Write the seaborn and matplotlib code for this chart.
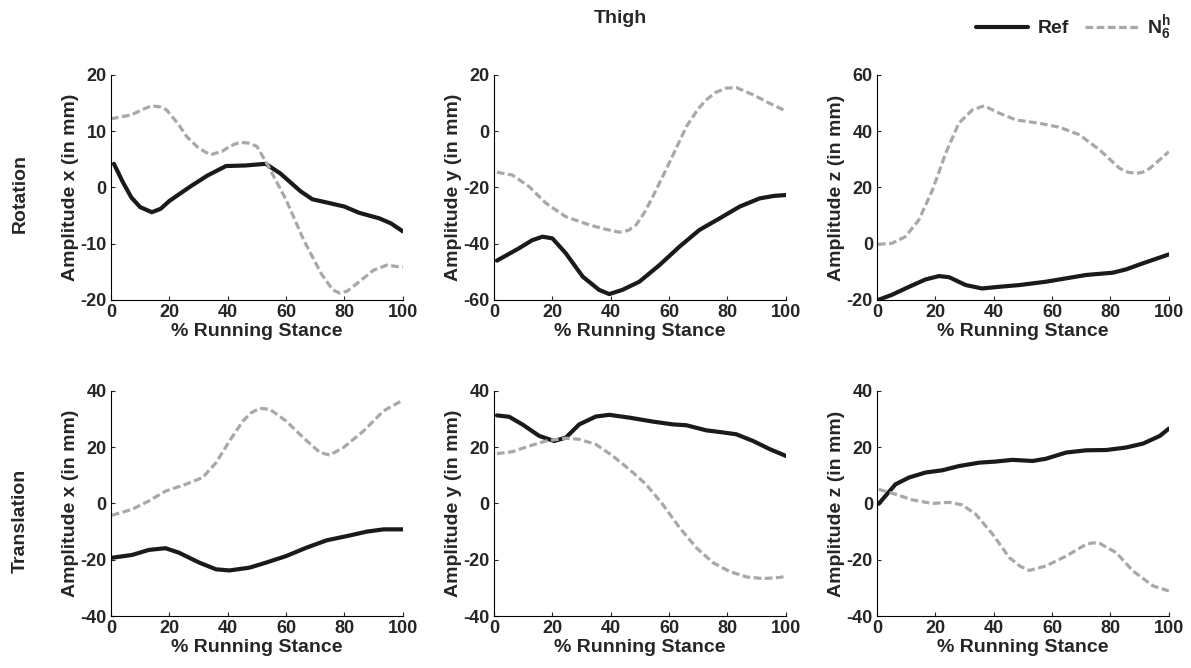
import numpy as np
import matplotlib
matplotlib.use("Agg")
import matplotlib.pyplot as plt
import seaborn as sns

sns.set_style("ticks")
plt.rcParams["font.family"] = ["Liberation Sans", "DejaVu Sans"]
plt.rcParams["font.weight"] = "bold"
plt.rcParams["axes.unicode_minus"] = False
plt.rcParams["mathtext.fontset"] = "custom"
plt.rcParams["mathtext.rm"] = "Liberation Sans"
plt.rcParams["mathtext.bf"] = "Liberation Sans:bold"

# ---- data (x = % running stance) ----
rot_x_ref_pct = [1, 4, 7, 10, 14, 17, 20, 27, 33, 39.4, 46, 53, 58, 65, 69, 75, 80, 85, 92, 96, 100]
rot_x_ref = [4.2, 1.0, -1.8, -3.5, -4.4, -3.8, -2.4, 0.1, 2.1, 3.8, 3.9, 4.2, 2.5, -0.7, -2.1, -2.8, -3.4, -4.5, -5.5, -6.4, -7.8]
rot_x_n6_pct = [0, 7, 11, 14, 17, 19, 23, 26, 30, 34, 38, 41, 44, 47, 50, 54, 60, 66, 72, 76, 78.5, 81, 83, 90, 94.6, 100]
rot_x_n6 = [12.2, 12.9, 13.9, 14.5, 14.3, 13.8, 11.3, 9.0, 7.0, 5.8, 6.4, 7.4, 8.0, 7.9, 7.3, 3.7, -2.2, -9.3, -15.3, -18.2, -18.8, -18.4, -17.6, -14.7, -13.8, -14.2]

rot_y_ref_pct = [1, 8.6, 13, 16.6, 20, 24.6, 30.4, 36, 39.5, 44, 49.8, 56.7, 63.6, 70.4, 77.3, 84.2, 91, 96, 100]
rot_y_ref = [-46.0, -41.6, -38.8, -37.5, -38.1, -43.4, -51.7, -56.4, -57.9, -56.4, -53.5, -47.6, -41.0, -35.1, -31.0, -26.8, -23.9, -23.0, -22.7]
rot_y_n6_pct = [1, 6.3, 12, 17.8, 24.6, 32.6, 38.4, 43, 46, 48.7, 51.5, 54.4, 60, 65.9, 70, 72.7, 76, 79.6, 83, 88.8, 95.6, 100]
rot_y_n6 = [-14.6, -15.6, -19.7, -25.6, -30.4, -33.3, -34.9, -35.9, -35.3, -33.3, -29.0, -23.3, -11.4, 1.6, 8.0, 11.1, 13.8, 15.3, 15.5, 12.9, 9.3, 7.2]

rot_z_ref_pct = [0.3, 5, 11, 16.6, 21.2, 24.7, 30.4, 36, 41.9, 48.7, 57.9, 64.8, 71.7, 80.8, 85.4, 91, 100]
rot_z_ref = [-20.0, -18.2, -15.3, -12.7, -11.5, -11.9, -14.7, -15.9, -15.3, -14.7, -13.5, -12.3, -11.1, -10.3, -9.1, -7.0, -3.8]
rot_z_n6_pct = [0.3, 5, 9.7, 14.3, 19, 23.5, 28, 32.7, 36.7, 41.9, 47.6, 55.6, 62.5, 69.4, 76.3, 83.1, 86, 88.9, 91, 93.5, 100]
rot_z_n6 = [-0.2, 0.1, 2.5, 8.4, 19.1, 32.1, 42.8, 47.6, 49.0, 46.4, 44.0, 42.8, 41.4, 38.7, 33.3, 26.8, 25.4, 25.0, 25.4, 26.8, 32.7]

tra_x_ref_pct = [0.3, 7.2, 13, 18.7, 23.3, 30.2, 36, 40.6, 47.5, 53.2, 60, 67, 73.9, 80.8, 87.7, 93.4, 100]
tra_x_ref = [-19.3, -18.3, -16.5, -15.9, -17.5, -21.0, -23.4, -23.8, -22.8, -21.0, -18.7, -15.7, -13.1, -11.6, -10.0, -9.2, -9.2]
tra_x_n6_pct = [0.3, 7.2, 13, 18.7, 25.6, 31.4, 36, 40.6, 45.2, 48, 50.9, 54.4, 60, 65.9, 71.6, 75, 79.7, 86.6, 93.4, 100]
tra_x_n6 = [-4.2, -2.1, 0.9, 4.4, 6.8, 9.2, 14.5, 22.2, 29.3, 32.2, 33.8, 33.5, 29.3, 23.4, 18.1, 17.2, 19.9, 25.8, 32.9, 36.7]

tra_y_ref_pct = [1, 5.2, 9.7, 15.5, 20.6, 24.6, 29.2, 34.9, 39.5, 46.4, 54.4, 61.3, 65.9, 72.7, 77.3, 83, 88.8, 94.5, 100]
tra_y_ref = [31.3, 30.8, 28.1, 24.0, 22.2, 23.4, 28.1, 30.9, 31.5, 30.5, 29.1, 28.1, 27.8, 26.0, 25.4, 24.6, 22.2, 19.3, 16.9]
tra_y_n6_pct = [1, 6.3, 12, 17.8, 24.6, 29.2, 34.9, 40.7, 46.4, 52.1, 57.8, 63.6, 69.3, 75, 80.8, 86.5, 92.2, 97.9, 100]
tra_y_n6 = [17.7, 18.4, 20.4, 22.2, 23.2, 22.8, 21.0, 16.9, 12.1, 6.8, -0.3, -8.6, -15.7, -21.0, -24.2, -26.1, -26.7, -26.3, -25.8]

tra_z_ref_pct = [0.6, 2.9, 6.3, 10.9, 16.6, 22.4, 28.1, 35, 40.7, 46.4, 53.3, 57.9, 64.8, 71.7, 78.6, 85.4, 91.2, 96.9, 100]
tra_z_ref = [-0.1, 2.7, 6.8, 9.2, 11.0, 11.8, 13.3, 14.5, 14.9, 15.5, 15.1, 15.9, 18.1, 18.9, 19.0, 19.9, 21.3, 24.0, 26.6]
tra_z_n6_pct = [0.6, 6.3, 12, 18.9, 24.7, 29.2, 33.8, 39.6, 45.3, 49, 52.2, 57.9, 64.8, 71.7, 74, 76.3, 82, 87.7, 94.6, 100]
tra_z_n6 = [5.0, 3.3, 1.3, 0.0, 0.4, -0.5, -3.8, -10.9, -19.2, -22.3, -23.8, -22.2, -18.7, -14.5, -14.0, -14.2, -17.5, -24.0, -29.3, -31.1]

panels = [
    (rot_x_ref_pct, rot_x_ref, rot_x_n6_pct, rot_x_n6, "x", (-20, 20), [-20, -10, 0, 10, 20]),
    (rot_y_ref_pct, rot_y_ref, rot_y_n6_pct, rot_y_n6, "y", (-60, 20), [-60, -40, -20, 0, 20]),
    (rot_z_ref_pct, rot_z_ref, rot_z_n6_pct, rot_z_n6, "z", (-20, 60), [-20, 0, 20, 40, 60]),
    (tra_x_ref_pct, tra_x_ref, tra_x_n6_pct, tra_x_n6, "x", (-40, 40), [-40, -20, 0, 20, 40]),
    (tra_y_ref_pct, tra_y_ref, tra_y_n6_pct, tra_y_n6, "y", (-40, 40), [-40, -20, 0, 20, 40]),
    (tra_z_ref_pct, tra_z_ref, tra_z_n6_pct, tra_z_n6, "z", (-40, 40), [-40, -20, 0, 20, 40]),
]

fig = plt.figure(figsize=(11.91, 6.68), dpi=100)

lefts = [0.0932, 0.4148, 0.7364]
bottoms = [0.5509, 0.0778]
w, h = 0.245, 0.337

for i, (rx, ry, nx, ny, comp, ylim, yticks) in enumerate(panels):
    row, col = divmod(i, 3)
    ax = fig.add_axes([lefts[col], bottoms[row], w, h])
    sns.lineplot(x=rx, y=ry, color="#1a1a1a", lw=3.0, ax=ax, label="Ref", legend=False)
    sns.lineplot(x=nx, y=ny, color="#a8a8a8", lw=2.3, ax=ax,
                 label=r"$\mathbf{N_6^h}$", legend=False)
    ax.lines[-1].set_dashes([2.4, 1.1])
    ax.set_xlim(0, 100)
    ax.set_ylim(*ylim)
    ax.set_xticks([0, 20, 40, 60, 80, 100])
    ax.set_yticks(yticks)
    ax.set_xlabel("% Running Stance", fontsize=14, fontweight="bold", labelpad=1)
    ax.set_ylabel(f"Amplitude {comp} (in mm)", fontsize=14, fontweight="bold", labelpad=1)
    ax.tick_params(direction="in", length=3, width=0.8, labelsize=13, pad=3)
    for lab in ax.get_xticklabels() + ax.get_yticklabels():
        lab.set_fontweight("bold")
    sns.despine(ax=ax)
    for s in ["left", "bottom"]:
        ax.spines[s].set_linewidth(0.8)
        ax.spines[s].set_color("black")

handles, labels = fig.axes[0].get_legend_handles_labels()
fig.legend(handles, labels, loc="upper right", bbox_to_anchor=(0.998, 1.006), ncol=2,
           frameon=False, fontsize=14, handlelength=2.7, columnspacing=0.8,
           handletextpad=0.5)

fig.text(0.521, 0.972, "Thigh", ha="center", va="center", fontsize=14, fontweight="bold")
fig.text(0.017, 0.711, "Rotation", rotation=90, ha="center", va="center",
         fontsize=14, fontweight="bold")
fig.text(0.017, 0.22, "Translation", rotation=90, ha="center", va="center",
         fontsize=14, fontweight="bold")

fig.savefig("out.png", dpi=100)
